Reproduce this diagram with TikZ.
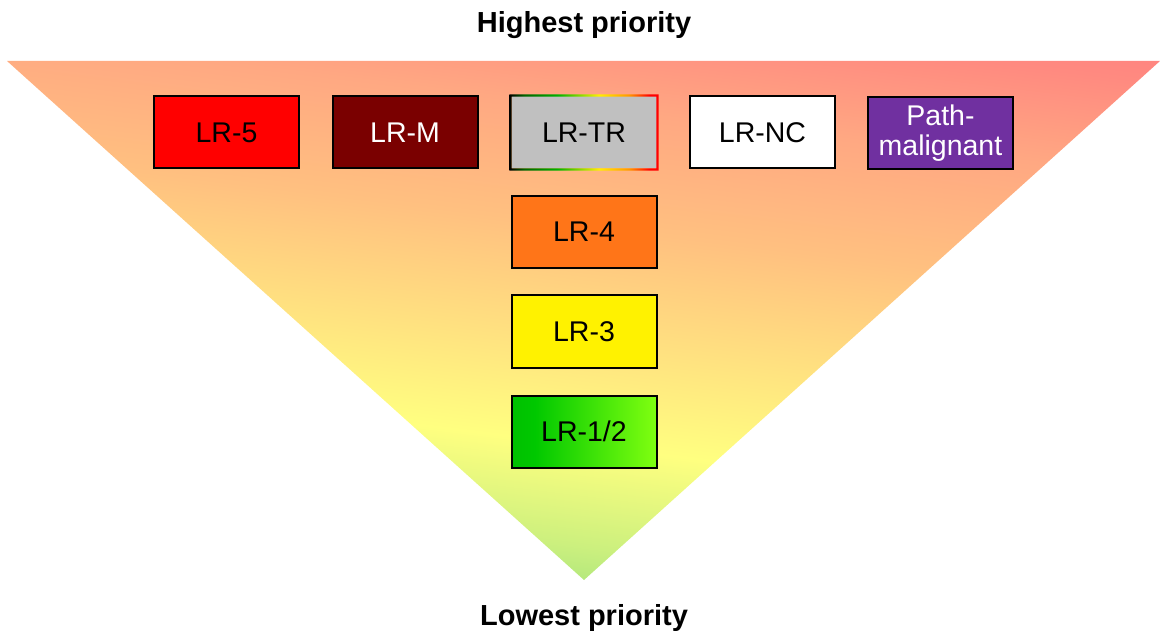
\documentclass[tikz,border=0pt]{standalone}
\usepackage{fontspec}
\setmainfont{Liberation Sans}
\definecolor{tG}{HTML}{A0E27C}
\definecolor{tLG}{HTML}{CCF07E}
\definecolor{tY}{HTML}{FFFF80}
\definecolor{tO}{HTML}{FFE080}
\definecolor{tP}{HTML}{FFC080}
\definecolor{tS}{HTML}{FFA882}
\definecolor{tS2}{HTML}{FF8A80}
\definecolor{tR}{HTML}{FF8080}
\definecolor{bG1}{HTML}{006400}
\definecolor{bG2}{HTML}{00B000}
\definecolor{bYG}{HTML}{A0E000}
\definecolor{bY}{HTML}{FFF000}
\definecolor{bO}{HTML}{FF9900}
\definecolor{bR}{HTML}{FF0000}
\definecolor{gA}{HTML}{00C000}
\definecolor{gB}{HTML}{00C800}
\definecolor{gC}{HTML}{80FF10}
\definecolor{lrM}{HTML}{7A0000}
\definecolor{lrFour}{HTML}{FF7518}
\definecolor{lrTR}{HTML}{C0C0C0}
\definecolor{purp}{HTML}{7030A0}
\pgfdeclareverticalshading{trishade}{100bp}{color(0bp)=(tG); color(25.5bp)=(tG); color(31bp)=(tLG); color(39.5bp)=(tY); color(48.5bp)=(tO); color(58bp)=(tP); color(68bp)=(tS); color(76bp)=(tS2); color(80bp)=(tR); color(100bp)=(tR)}
\pgfdeclarehorizontalshading{trborder}{100bp}{color(0bp)=(black); color(25bp)=(black); color(30bp)=(bG1); color(41bp)=(bG2); color(50bp)=(bYG); color(55bp)=(bY); color(65bp)=(bO); color(72bp)=(bR); color(100bp)=(bR)}
\pgfdeclarehorizontalshading{lowgreen}{100bp}{color(0bp)=(gA); color(25bp)=(gA); color(33bp)=(gB); color(75bp)=(gC); color(100bp)=(gC)}
\begin{document}
\begin{tikzpicture}[x=1pt,y=-1pt,
  box/.style={draw=black, line width=2pt, minimum width=145pt, minimum height=72pt,
    inner sep=0pt, align=center, font=\fontsize{28.5}{30}\selectfont},
  title/.style={anchor=base, font=\bfseries\fontsize{29}{32}\selectfont}]
\useasboundingbox (0,0) rectangle (1160,631);
\coordinate (tl) at (7,61);
\coordinate (tr) at (1160,61);
\coordinate (apex) at (584,580);
\shade[shading=trishade, shading angle=-7] (tl) -- (tr) -- (apex) -- cycle;

\node[title] (hi) at (584,33) {Highest priority};
\node[title] (lo) at (584,625) {Lowest priority};

\node[box, fill=red, text=black] (lr5) at (226.5,132.5) {LR-5};
\node[box, fill=lrM, text=white] (lrm) at (405,132.5) {LR-M};
\node[box, draw=none, fill=lrTR, text=black] (lrtr) at (584,132.5) {LR-TR};
\shade[shading=trborder, even odd rule]
  ([shift={(-1.2pt,1.2pt)}]lrtr.north west) rectangle ([shift={(1.2pt,-1.2pt)}]lrtr.south east)
  ([shift={(1.2pt,-1.2pt)}]lrtr.north west) rectangle ([shift={(-1.2pt,1.2pt)}]lrtr.south east);
\node[box, fill=white, text=black] (lrnc) at (762.5,132.5) {LR-NC};
\node[box, fill=purp, text=white] (pm) at (940.5,133) {Path-\\malignant};
\node[box, fill=lrFour, text=black] (lr4) at (584,232) {LR-4};
\node[box, fill=yellow, text=black] (lr3) at (584,331.5) {LR-3};
\node[box, shading=lowgreen, text=black] (lr12) at (584,431.5) {LR-1/2};
\end{tikzpicture}
\end{document}
